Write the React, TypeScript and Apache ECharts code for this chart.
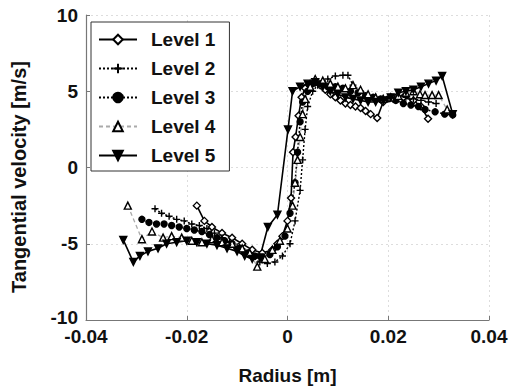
import React, { useEffect, useRef } from "react";
import * as echarts from "echarts";

const seriesNames = ["Level 1", "Level 2", "Level 3", "Level 4", "Level 5"];

const level1: [number, number][] = [
  [-0.018, -2.5], [-0.0165, -3.5], [-0.015, -3.9], [-0.013, -4.3], [-0.011, -4.6],
  [-0.009, -5.0], [-0.007, -5.4], [-0.005, -5.6], [-0.003, -5.4], [-0.002, -5.0],
  [-0.001, -4.5], [0.0, -3.5], [0.0007, -2.0], [0.0011, 1.0], [0.0016, 2.0],
  [0.0022, 3.4], [0.0028, 4.6], [0.0035, 5.2], [0.0045, 5.5], [0.0055, 5.6],
  [0.0065, 5.4], [0.0075, 5.1], [0.0085, 4.8], [0.0095, 4.6], [0.0105, 4.4],
  [0.0115, 4.2], [0.0125, 4.1], [0.0135, 4.0], [0.0145, 3.9], [0.0155, 3.7],
  [0.0165, 3.5], [0.0178, 3.25], [0.019, 4.3], [0.021, 4.5], [0.023, 4.6],
  [0.025, 4.4], [0.0265, 4.0], [0.0279, 3.2],
];

const level2: [number, number][] = [
  [-0.0263, -2.7], [-0.025, -3.0], [-0.0235, -3.2], [-0.022, -3.4], [-0.0205, -3.5],
  [-0.019, -3.7], [-0.0175, -3.8], [-0.016, -4.0], [-0.0145, -4.3], [-0.013, -4.6],
  [-0.0115, -4.9], [-0.01, -5.2], [-0.0085, -5.5], [-0.007, -5.9], [-0.0055, -6.2],
  [-0.004, -6.3], [-0.0025, -6.2], [-0.001, -5.8], [0.0005, -5.0], [0.0015, -3.5],
  [0.0025, -1.5], [0.003, 0.5], [0.0035, 2.5], [0.004, 4.0], [0.005, 5.0],
  [0.006, 5.4], [0.007, 5.6], [0.008, 5.8], [0.0095, 6.0], [0.011, 6.05],
  [0.012, 6.05], [0.013, 5.4], [0.0145, 5.0], [0.016, 4.7], [0.0175, 4.6],
  [0.019, 4.5], [0.0205, 4.6], [0.022, 4.7], [0.0235, 4.6], [0.025, 4.5],
  [0.0265, 4.4], [0.028, 4.3], [0.0295, 4.2],
];

const level3: [number, number][] = [
  [-0.0289, -3.4], [-0.0275, -3.6], [-0.026, -3.7], [-0.0245, -3.7], [-0.023, -3.8],
  [-0.0215, -3.9], [-0.02, -4.0], [-0.0185, -4.1], [-0.017, -4.2], [-0.0155, -4.4],
  [-0.014, -4.6], [-0.0125, -4.8], [-0.011, -5.0], [-0.0095, -5.3], [-0.008, -5.6],
  [-0.0065, -5.8], [-0.005, -5.9], [-0.0035, -5.7], [-0.002, -5.2], [-0.0005, -4.5],
  [0.0005, -3.0], [0.0015, -1.0], [0.002, 1.0], [0.0025, 3.0], [0.003, 4.3],
  [0.004, 5.0], [0.005, 5.5], [0.0065, 5.5], [0.008, 5.3], [0.0095, 5.3],
  [0.011, 5.2], [0.0125, 5.0], [0.014, 4.9], [0.0155, 4.7], [0.017, 4.6],
  [0.0185, 4.5], [0.02, 4.5], [0.0215, 4.4], [0.023, 4.2], [0.0245, 4.1],
  [0.026, 4.0], [0.0273, 3.8], [0.0293, 3.65], [0.0312, 3.5], [0.0328, 3.45],
];

const level4: [number, number][] = [
  [-0.0317, -2.5], [-0.0289, -4.7], [-0.0269, -4.2], [-0.0247, -4.6], [-0.023, -4.5],
  [-0.021, -4.6], [-0.019, -4.8], [-0.017, -4.9], [-0.015, -4.7], [-0.013, -4.9],
  [-0.011, -5.0], [-0.009, -5.3], [-0.0075, -5.6], [-0.006, -6.5], [-0.0045, -6.0],
  [-0.003, -5.4], [-0.0015, -4.8], [0.0, -4.0], [0.001, -2.5], [0.0015, -1.0],
  [0.002, 0.5], [0.0025, 2.0], [0.003, 3.5], [0.0035, 4.5], [0.0045, 5.3],
  [0.0055, 5.8], [0.007, 5.7], [0.0085, 5.5], [0.01, 5.3], [0.0115, 5.2],
  [0.013, 5.4], [0.0145, 5.1], [0.016, 4.8], [0.0175, 4.6], [0.019, 4.5],
  [0.0205, 4.6], [0.022, 4.7], [0.0235, 4.9], [0.025, 5.0], [0.0263, 4.8],
  [0.0273, 4.75], [0.0287, 4.75], [0.03, 4.75], [0.0317, 3.8],
];

const level5: [number, number][] = [
  [-0.0326, -4.75], [-0.0306, -6.2], [-0.0293, -5.8], [-0.0277, -5.5], [-0.0257, -5.3],
  [-0.024, -5.0], [-0.022, -4.9], [-0.02, -4.8], [-0.018, -4.9], [-0.016, -5.0],
  [-0.014, -5.1], [-0.012, -5.3], [-0.01, -5.5], [-0.0085, -5.8], [-0.007, -6.0],
  [-0.0055, -5.9], [-0.0039, -3.9], [-0.002, -3.1], [0.0001, 2.5], [0.001, 5.0],
  [0.0025, 5.3], [0.004, 5.5], [0.0055, 5.6], [0.007, 5.3], [0.0085, 5.0],
  [0.01, 4.8], [0.0115, 4.6], [0.013, 4.5], [0.0145, 4.4], [0.016, 4.3],
  [0.0175, 4.3], [0.019, 4.4], [0.0205, 4.6], [0.022, 4.9], [0.0235, 5.0],
  [0.025, 5.1], [0.0265, 5.3], [0.028, 5.5], [0.0295, 5.7], [0.0307, 6.0],
  [0.0328, 3.5],
];

const xTicks = [-0.04, -0.02, 0, 0.02, 0.04];
const yTicks = [-10, -5, 0, 5, 10];
const yTitle = "Tangential velocity [m/s]";
const xTitle = "Radius [m]";

const FONT = "Liberation Sans, Arial, sans-serif";
const PLUS = "path://M0,5 L10,5 M5,0 L5,10";

export default function App() {
  const ref = useRef<HTMLDivElement>(null);
  useEffect(() => {
    if (!ref.current) return;
    const chart = echarts.init(ref.current, null, { renderer: "svg" });
    const mk = (
      name: string,
      data: [number, number][],
      lineColor: string,
      lineType: any,
      symbol: string,
      symbolSize: number,
      fill: string,
      rotate = 0,
      width = 1.6
    ) => ({
      name,
      type: "line",
      data,
      symbol,
      symbolSize,
      symbolRotate: rotate,
      showSymbol: true,
      lineStyle: { color: lineColor, type: lineType, width },
      itemStyle: { color: fill, borderColor: "#000", borderWidth: 1.4 },
      z: 2,
    });
    const lblStyle = { fontFamily: FONT, fontWeight: "bold", fontSize: 19, color: "#111" };
    chart.setOption({
      animation: false,
      backgroundColor: "#fff",
      grid: { left: 86, right: 22, top: 15, bottom: 68 },
      graphic: [
        {
          type: "text",
          x: 19,
          y: 177,
          rotation: Math.PI / 2,
          style: {
            text: yTitle,
            fontFamily: FONT,
            fontWeight: "bold",
            fontSize: 20,
            fill: "#111",
            align: "center",
            verticalAlign: "middle",
          },
        },
      ],
      legend: {
        orient: "vertical",
        left: 91,
        top: 22,
        data: seriesNames,
        backgroundColor: "#fff",
        borderColor: "#333",
        borderWidth: 1,
        padding: [8, 14, 6, 7],
        itemWidth: 38,
        itemHeight: 12,
        itemGap: 10,
        textStyle: { ...lblStyle, padding: [0, 0, 0, 9] },
      },
      xAxis: {
        type: "value",
        min: -0.04,
        max: 0.04,
        interval: 0.02,
        name: xTitle,
        nameLocation: "middle",
        nameGap: 46,
        nameTextStyle: lblStyle,
        axisLine: { show: true, onZero: false, lineStyle: { color: "#777", width: 1.2 } },
        axisTick: { show: true, inside: true, length: 4, lineStyle: { color: "#777" } },
        axisLabel: {
          ...lblStyle,
          margin: 7,
          formatter: (v: number) => {
            const f = xTicks.find((t) => Math.abs(t - v) < 1e-9);
            return f === undefined ? "" : f === 0 ? "0" : String(f);
          },
        },
        splitLine: { show: true, lineStyle: { color: "#ddd", type: [2, 3] } },
      },
      yAxis: {
        type: "value",
        min: -10,
        max: 10,
        interval: 5,
        axisLine: { show: true, onZero: false, lineStyle: { color: "#777", width: 1.2 } },
        axisTick: { show: true, inside: true, length: 4, lineStyle: { color: "#777" } },
        axisLabel: {
          ...lblStyle,
          margin: 8,
          rich: {
            lo: { ...lblStyle, padding: [0, 0, 6, 0] },
          },
          formatter: (v: number) =>
            !yTicks.includes(v) ? "" : v === -10 ? "{lo|" + String(v) + "}" : String(v),
        },
        splitLine: { show: true, lineStyle: { color: "#ddd", type: [2, 3] } },
      },
      series: [
        mk("Level 1", level1, "#000", "solid", "diamond", 7, "#fff"),
        mk("Level 2", level2, "#000", [2, 2], PLUS, 7, "#000", 0, 1.4),
        mk("Level 3", level3, "#000", [2, 2], "circle", 6, "#000", 0, 1.6),
        mk("Level 4", level4, "#aaa", [4, 3], "triangle", 7, "#fff", 0, 1.3),
        mk("Level 5", level5, "#000", "solid", "triangle", 7, "#000", 180),
      ],
    });
    return () => chart.dispose();
  }, []);
  return <div ref={ref} style={{ width: 511, height: 390, position: "absolute", left: 0, top: 0 }} />;
}
